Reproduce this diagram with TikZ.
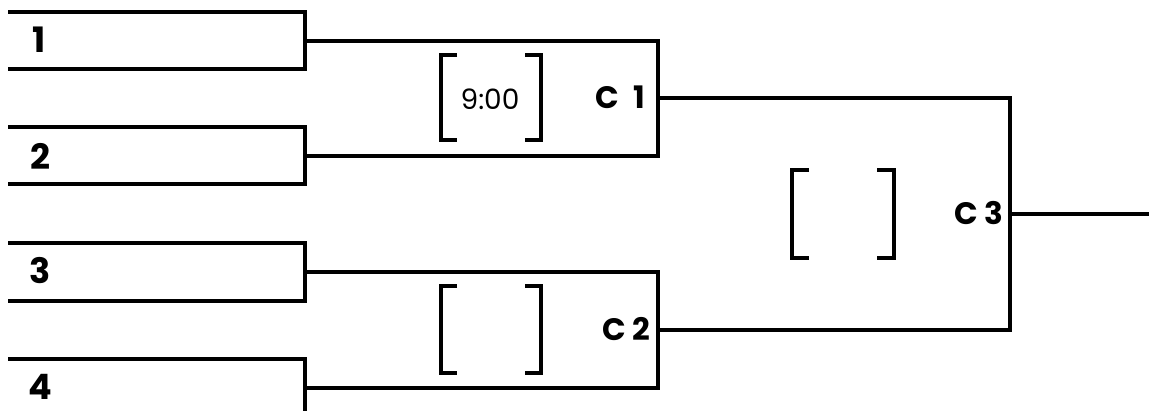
\documentclass[tikz,border=0pt]{standalone}
\usepackage{fontspec}
\setmainfont{Poppins}
\begin{document}
\begin{tikzpicture}[x=1pt,y=-1pt,
  ln/.style={line width=3.3pt,line cap=rect,line join=miter},
  brk/.style={line width=3.3pt},
  seed/.style={font=\fontsize{35}{35}\selectfont\bfseries,anchor=center,inner sep=0pt},
  game/.style={font=\fontsize{31}{31}\selectfont\bfseries,inner sep=0pt},
  tm/.style={font=\fontsize{28}{28}\selectfont,anchor=center,inner sep=0pt}]
\fill[white] (0,0) rectangle (1149,410);
\clip (0,0) rectangle (1149,410);
% player slots (open on the left)
\draw[ln] (10,12) -- (305,12) -- (305,69) -- (10,69);
\draw[ln] (10,127) -- (305,127) -- (305,184) -- (10,184);
\draw[ln] (10,243) -- (305,243) -- (305,301) -- (10,301);
\draw[ln] (10,359) -- (305,359) -- (305,418) -- (10,418);
\coordinate (p1) at (305,41);
\coordinate (p2) at (305,156);
\coordinate (p3) at (305,272);
\coordinate (p4) at (305,388);
\node[seed] (n1) at (39,40) {1};
\node[seed] (n2) at (40,156) {2};
\node[seed] (n3) at (40,271) {3};
\node[seed] (n4) at (40,387) {4};
% game 1
\coordinate (g1) at (658,98);
\draw[ln] (p1) -- (p1 -| g1) -- (p2 -| g1) -- (p2);
% game 2
\coordinate (g2) at (658,330);
\draw[ln] (p3) -- (p3 -| g2) -- (p4 -| g2) -- (p4);
% game 3
\coordinate (g3) at (1010,214);
\coordinate (out) at (1149,214);
\draw[ln] (g1) -- (g1 -| g3) -- (g2 -| g3) -- (g2);
\draw[ln] (g3) -- (out);
% labels
\node[game,anchor=east] (c1) at (645,97) {C\hspace{0.45em}1};
\node[game,anchor=east] (c2) at (650,329) {C\hspace{0.2em}2};
\node[game,anchor=east] (c3) at (1003,213) {C\hspace{0.2em}3};
\node[tm] (t1) at (490,99) {9:00};
% brackets
\draw[brk] (457,55) -- (441,55) -- (441,140) -- (457,140);
\draw[brk] (525,55) -- (541,55) -- (541,140) -- (525,140);
\draw[brk] (457,286) -- (441,286) -- (441,373) -- (457,373);
\draw[brk] (525,286) -- (541,286) -- (541,373) -- (525,373);
\draw[brk] (809,170) -- (792,170) -- (792,258) -- (809,258);
\draw[brk] (877,170) -- (894,170) -- (894,258) -- (877,258);
\end{tikzpicture}
\end{document}
